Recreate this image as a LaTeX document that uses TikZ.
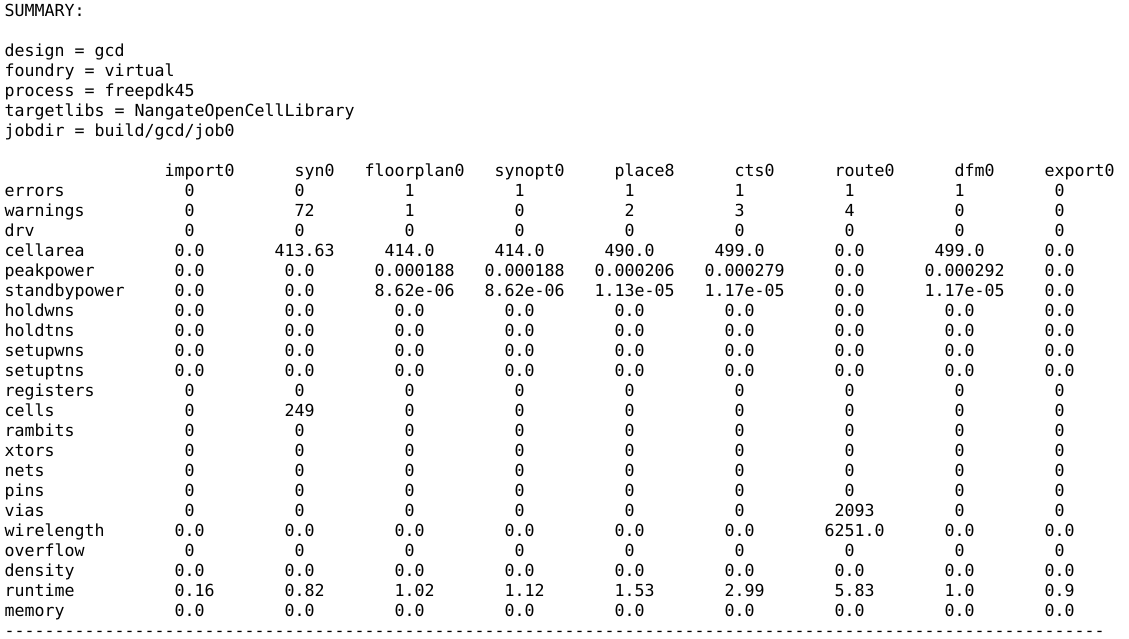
\documentclass[tikz,border=0pt]{standalone}
\usepackage{fontspec}
\newfontfamily\monofam[Ligatures=TeXOff]{DejaVu Sans Mono}
\frenchspacing
\tikzset{
  txt/.style={anchor=base west, inner sep=0pt, outer sep=0pt,
    font=\monofam\fontsize{16.61pt}{20pt}\selectfont, text=black}
}
% #1 name prefix, #2 baseline (px from top), #3 list of column/text
\newcommand\tabrow[3]{%
  \foreach \cn/\ct [count=\ck] in {#3} {%
    \node[txt] (#1-\ck) at ({4.7+10*\cn},{-#2}) {\ct};
  }%
}
\begin{document}
\begin{tikzpicture}[x=1pt,y=1pt]
\path[fill=white, use as bounding box] (0,0) rectangle (1129,-639);

\node[txt] (summary) at (4.7,-16.5) {SUMMARY:};
\node[txt] (design) at (4.7,-56.5) {design = gcd};
\node[txt] (foundry) at (4.7,-76.5) {foundry = virtual};
\node[txt] (process) at (4.7,-96.5) {process = freepdk45};
\node[txt] (targetlibs) at (4.7,-116.5) {targetlibs = NangateOpenCellLibrary};
\node[txt] (jobdir) at (4.7,-136.5) {jobdir = build/gcd/job0};

\tabrow{head}{176.5}{16/import0, 29/syn0, 36/floorplan0, 49/synopt0, 61/place8, 73/cts0, 83/route0, 95/dfm0, 104/export0}

\tabrow{errors}{196.5}{0/errors, 18/0, 29/0, 40/1, 51/1, 62/1, 73/1, 84/1, 95/1, 105/0}
\tabrow{warnings}{216.5}{0/warnings, 18/0, 29/72, 40/1, 51/0, 62/2, 73/3, 84/4, 95/0, 105/0}
\tabrow{drv}{236.5}{0/drv, 18/0, 29/0, 40/0, 51/0, 62/0, 73/0, 84/0, 95/0, 105/0}
\tabrow{cellarea}{256.5}{0/cellarea, 17/0.0, 27/413.63, 38/414.0, 49/414.0, 60/490.0, 71/499.0, 83/0.0, 93/499.0, 104/0.0}
\tabrow{peakpower}{276.5}{0/peakpower, 17/0.0, 28/0.0, 37/0.000188, 48/0.000188, 59/0.000206, 70/0.000279, 83/0.0, 92/0.000292, 104/0.0}
\tabrow{standbypower}{296.5}{0/standbypower, 17/0.0, 28/0.0, 37/8.62e-06, 48/8.62e-06, 59/1.13e-05, 70/1.17e-05, 83/0.0, 92/1.17e-05, 104/0.0}
\tabrow{holdwns}{316.5}{0/holdwns, 17/0.0, 28/0.0, 39/0.0, 50/0.0, 61/0.0, 72/0.0, 83/0.0, 94/0.0, 104/0.0}
\tabrow{holdtns}{336.5}{0/holdtns, 17/0.0, 28/0.0, 39/0.0, 50/0.0, 61/0.0, 72/0.0, 83/0.0, 94/0.0, 104/0.0}
\tabrow{setupwns}{356.5}{0/setupwns, 17/0.0, 28/0.0, 39/0.0, 50/0.0, 61/0.0, 72/0.0, 83/0.0, 94/0.0, 104/0.0}
\tabrow{setuptns}{376.5}{0/setuptns, 17/0.0, 28/0.0, 39/0.0, 50/0.0, 61/0.0, 72/0.0, 83/0.0, 94/0.0, 104/0.0}
\tabrow{registers}{396.5}{0/registers, 18/0, 29/0, 40/0, 51/0, 62/0, 73/0, 84/0, 95/0, 105/0}
\tabrow{cells}{416.5}{0/cells, 18/0, 28/249, 40/0, 51/0, 62/0, 73/0, 84/0, 95/0, 105/0}
\tabrow{rambits}{436.5}{0/rambits, 18/0, 29/0, 40/0, 51/0, 62/0, 73/0, 84/0, 95/0, 105/0}
\tabrow{xtors}{456.5}{0/xtors, 18/0, 29/0, 40/0, 51/0, 62/0, 73/0, 84/0, 95/0, 105/0}
\tabrow{nets}{476.5}{0/nets, 18/0, 29/0, 40/0, 51/0, 62/0, 73/0, 84/0, 95/0, 105/0}
\tabrow{pins}{496.5}{0/pins, 18/0, 29/0, 40/0, 51/0, 62/0, 73/0, 84/0, 95/0, 105/0}
\tabrow{vias}{516.5}{0/vias, 18/0, 29/0, 40/0, 51/0, 62/0, 73/0, 83/2093, 95/0, 105/0}
\tabrow{wirelength}{536.5}{0/wirelength, 17/0.0, 28/0.0, 39/0.0, 50/0.0, 61/0.0, 72/0.0, 82/6251.0, 94/0.0, 104/0.0}
\tabrow{overflow}{556.5}{0/overflow, 18/0, 29/0, 40/0, 51/0, 62/0, 73/0, 84/0, 95/0, 105/0}
\tabrow{density}{576.5}{0/density, 17/0.0, 28/0.0, 39/0.0, 50/0.0, 61/0.0, 72/0.0, 83/0.0, 94/0.0, 104/0.0}
\tabrow{runtime}{596.5}{0/runtime, 17/0.16, 28/0.82, 39/1.02, 50/1.12, 61/1.53, 72/2.99, 83/5.83, 94/1.0, 104/0.9}
\tabrow{memory}{616.5}{0/memory, 17/0.0, 28/0.0, 39/0.0, 50/0.0, 61/0.0, 72/0.0, 83/0.0, 94/0.0, 104/0.0}

\node[txt] (rule) at (4.7,-636.5) {--------------------------------------------------------------------------------------------------------------};
\end{tikzpicture}
\end{document}
